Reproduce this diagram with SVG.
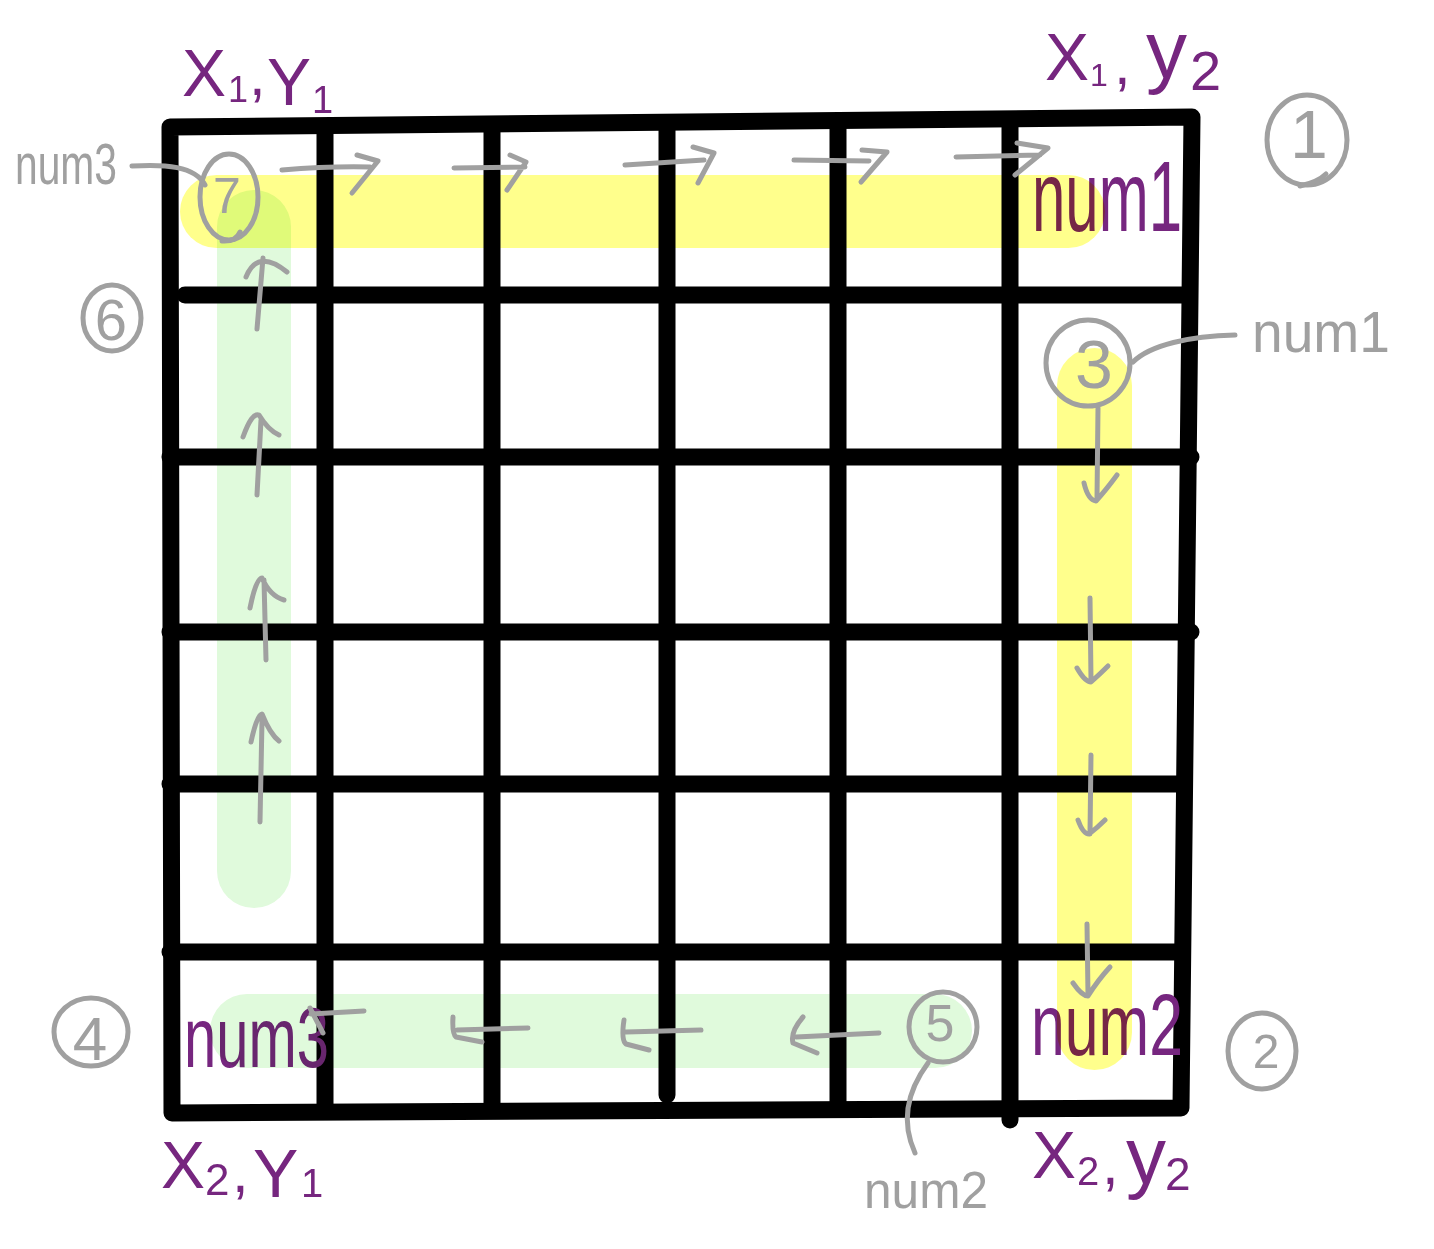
<svg xmlns="http://www.w3.org/2000/svg" width="1434" height="1249" viewBox="0 0 1434 1249">
<style>
.grid{fill:none;stroke:#000;stroke-width:17;stroke-linecap:round;stroke-linejoin:round}
.hly{fill:#ffff8c;mix-blend-mode:multiply}
.hlg{fill:#e0fadc;mix-blend-mode:multiply}
.pen{fill:none;stroke:#a0a0a0;stroke-width:5;stroke-linecap:round;stroke-linejoin:round}
.gt{fill:#a0a0a0;font-family:"Liberation Sans",Arial,sans-serif}
.pt{fill:#76267f;font-family:"Liberation Sans",Arial,sans-serif}
</style>
<rect width="1434" height="1249" fill="#fff"/>
<g id="grid">
<path class="grid" d="M170,127 L1192,117 L1181,1108 L172,1113 Z"/>
<path class="grid" d="M325,127 L325,1105 M492,126 L492,1106 M667,124 L667,1095 M838,122 L838,1108 M1010,120 L1010,1120"/>
<path class="grid" d="M185,295 L1186,295 M170,457 L1191,457 M170,632 L1191,632 M170,784 L1182,784 M170,952 L1178,952"/>
</g>
<g id="purple-labels">
<text id="lbl-x1y1" class="pt" font-size="66"><tspan x="182" y="96">X</tspan><tspan x="228" y="102" font-size="36">1</tspan><tspan x="249" y="95" font-size="60">,</tspan><tspan x="267" y="105">Y</tspan><tspan x="312" y="113" font-size="38">1</tspan></text>
<text id="lbl-x1y2" class="pt" font-size="66"><tspan x="1045" y="80">X</tspan><tspan x="1090" y="86" font-size="32">1</tspan><tspan x="1114" y="84" font-size="60">,</tspan><tspan x="1146" y="78" font-size="82">y</tspan><tspan x="1190" y="90" font-size="56">2</tspan></text>
<text id="lbl-x2y1" class="pt" font-size="66"><tspan x="161" y="1188">X</tspan><tspan x="205" y="1195" font-size="44">2</tspan><tspan x="232" y="1192" font-size="60">,</tspan><tspan x="253" y="1197" font-size="68">Y</tspan><tspan x="301" y="1197" font-size="40">1</tspan></text>
<text id="lbl-x2y2" class="pt" font-size="66"><tspan x="1032" y="1178">X</tspan><tspan x="1077" y="1185" font-size="40">2</tspan><tspan x="1102" y="1184" font-size="60">,</tspan><tspan x="1126" y="1183" font-size="80">y</tspan><tspan x="1165" y="1190" font-size="46">2</tspan></text>
<text id="val-num1" class="pt" x="1032" y="231" font-size="100" textLength="150" lengthAdjust="spacingAndGlyphs">num1</text>
<text id="val-num2" class="pt" x="1031" y="1055" font-size="88" textLength="152" lengthAdjust="spacingAndGlyphs">num2</text>
<text id="val-num3" class="pt" x="184" y="1067" font-size="85" textLength="145" lengthAdjust="spacingAndGlyphs">num3</text>
</g>
<g id="highlights">
<rect class="hly" x="180" y="175" width="925" height="73" rx="36.5"/>
<rect class="hly" x="1057" y="348" width="75" height="722" rx="37.5"/>
<rect class="hlg" x="217" y="190" width="74" height="718" rx="37"/>
<rect class="hlg" x="210" y="994" width="762" height="74" rx="37"/>
</g>
<g id="connectors">
<path class="pen" d="M282,170 Q330,166 370,167 M357,155 L378,161 L352,193"/>
<path class="pen" d="M454,168 L525,167 M510,155 L526,162 L507,190"/>
<path class="pen" d="M625,165 L704,160 M693,147 L714,153 L698,183"/>
<path class="pen" d="M794,160 L869,161 M862,150 L887,152 L861,182"/>
<path class="pen" d="M956,157 L1040,155 M1017,143 L1048,148 L1015,175"/>
<path class="pen" d="M1098,408 L1097,499 M1084,483 Q1088,500 1096,501 Q1106,490 1117,475"/>
<path class="pen" d="M1090,598 L1091,680 M1077,668 Q1085,682 1091,682 Q1100,674 1108,666"/>
<path class="pen" d="M1091,755 L1090,834 M1078,820 Q1083,834 1089,834 Q1097,828 1105,820"/>
<path class="pen" d="M1087,924 L1088,995 M1073,983 Q1082,996 1088,996 Q1098,980 1110,967"/>
<path class="pen" d="M364,1011 L311,1014 M310,1008 L323,1033"/>
<path class="pen" d="M528,1028 L457,1030 M453,1017 Q452,1034 456,1037 L482,1042"/>
<path class="pen" d="M701,1030 L626,1032 M624,1020 Q621,1040 626,1044 L649,1050"/>
<path class="pen" d="M879,1033 L796,1037 M803,1017 Q790,1032 793,1043 L817,1053"/>
<path class="pen" d="M257,329 L263,258 M246,277 Q258,248 287,272"/>
<path class="pen" d="M257,495 L261,420 M243,437 Q252,412 259,415 Q268,430 279,435"/>
<path class="pen" d="M266,660 L264,580 M250,608 Q256,578 262,578 Q270,596 284,600"/>
<path class="pen" d="M260,822 L262,720 M251,742 Q257,714 262,714 Q270,734 279,741"/>
<path class="pen" d="M132,166 C165,164 195,166 205,185"/>
<path class="pen" d="M1235,335 C1190,336 1150,345 1133,362"/>
<path class="pen" d="M928,1063 C908,1090 900,1120 915,1153"/>
</g>
<g id="step1"><ellipse class="pen" cx="1307" cy="140" rx="40" ry="45"/><path class="pen" d="M1300,186 Q1318,182 1326,174"/><text class="gt" x="1309" y="158" font-size="68" text-anchor="middle">1</text></g>
<g id="step2"><ellipse class="pen" cx="1262" cy="1051" rx="34" ry="38"/><text class="gt" x="1266" y="1068" font-size="48" text-anchor="middle">2</text></g>
<g id="step3"><ellipse class="pen" cx="1088" cy="363" rx="42" ry="43"/><text class="gt" x="1094" y="388" font-size="68" text-anchor="middle">3</text></g>
<g id="step4"><ellipse class="pen" cx="91" cy="1032" rx="37" ry="34"/><text class="gt" x="90" y="1060" font-size="62" text-anchor="middle">4</text></g>
<g id="step5"><ellipse class="pen" cx="943" cy="1027" rx="34" ry="35"/><text class="gt" x="940" y="1041" font-size="52" text-anchor="middle">5</text></g>
<g id="step6"><ellipse class="pen" cx="112" cy="318" rx="29" ry="33"/><text class="gt" x="111" y="340" font-size="58" text-anchor="middle">6</text></g>
<g id="step7"><ellipse class="pen" cx="229" cy="197" rx="29" ry="43"/><path class="pen" d="M222,241 Q236,242 240,232"/><text class="gt" x="227" y="213" font-size="50" text-anchor="middle">7</text></g>
<g id="note-num3"><text class="gt" x="15" y="184" font-size="58" textLength="102" lengthAdjust="spacingAndGlyphs">num3</text></g>
<g id="note-num1"><text class="gt" x="1252" y="352" font-size="58" textLength="138" lengthAdjust="spacingAndGlyphs">num1</text></g>
<g id="note-num2"><text class="gt" x="864" y="1208" font-size="52" textLength="124" lengthAdjust="spacingAndGlyphs">num2</text></g>
</svg>
